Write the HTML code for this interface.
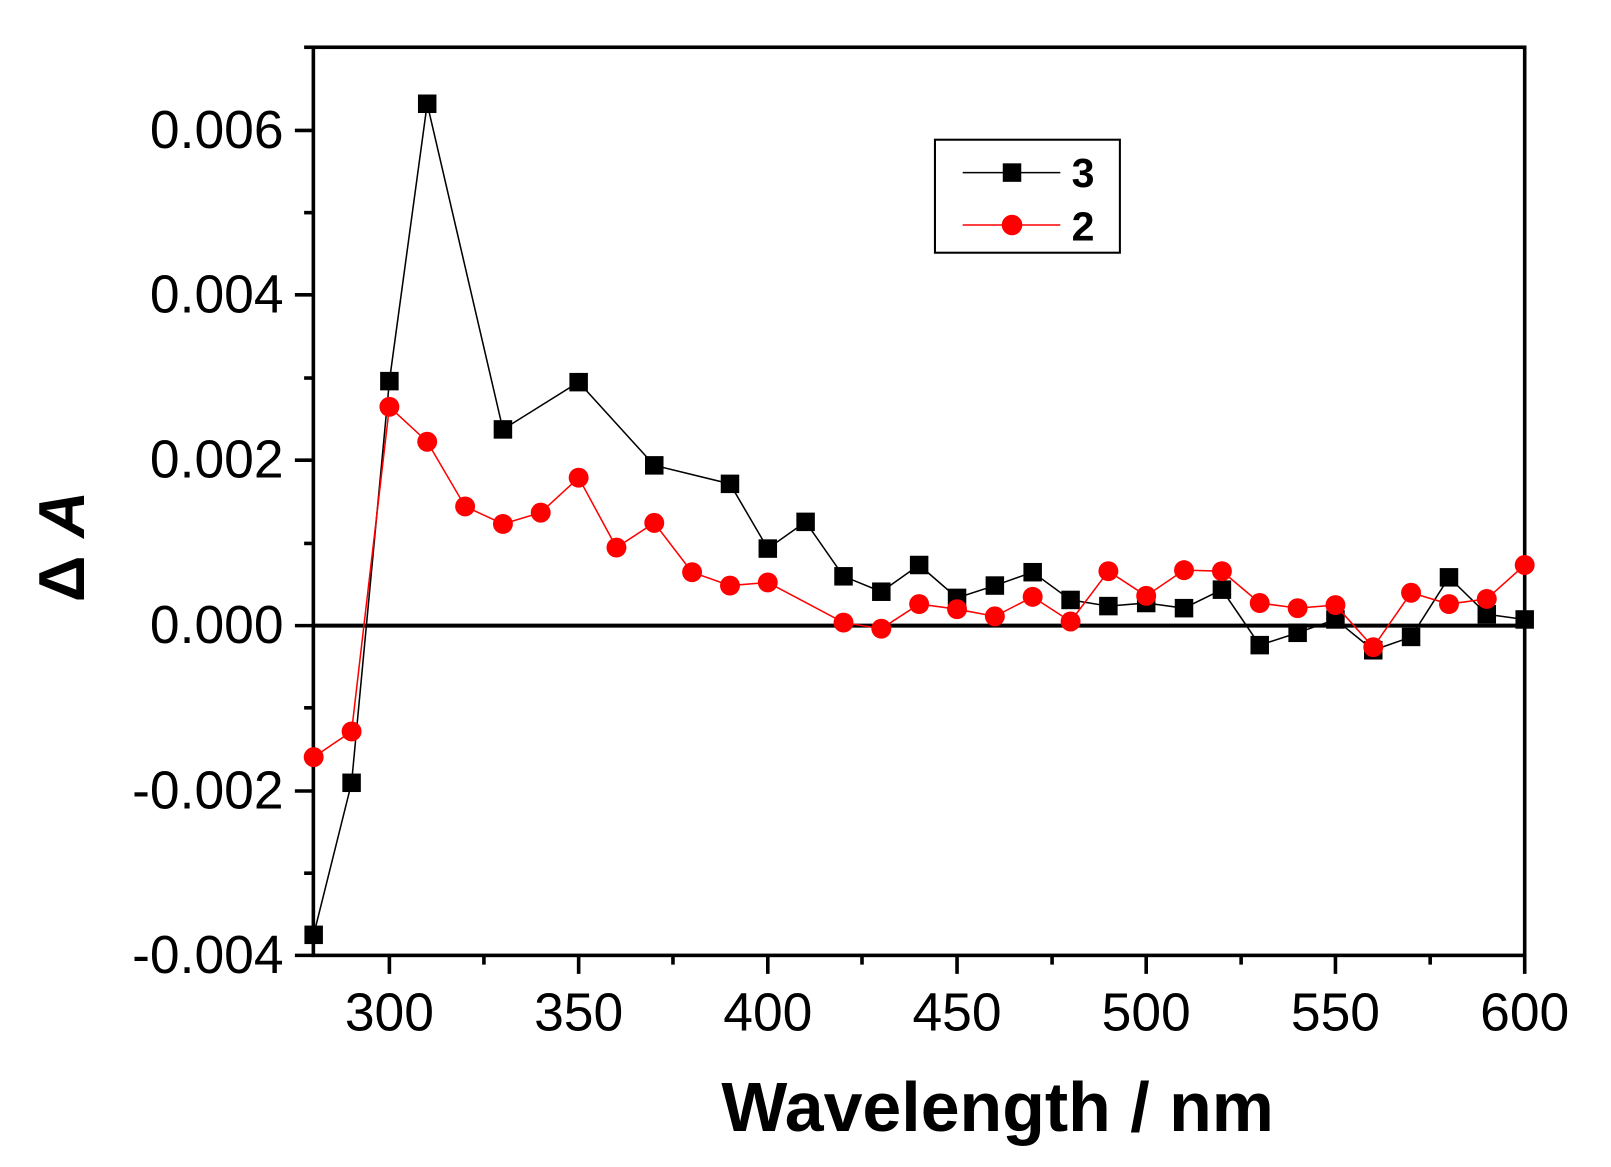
<!DOCTYPE html>
<html><head><meta charset="utf-8"><style>
html,body{margin:0;padding:0;background:#fff;}
svg{display:block;}
text{font-family:"Liberation Sans",Arial,sans-serif;}
</style></head><body>
<svg width="1611" height="1167" viewBox="0 0 1568 1136" preserveAspectRatio="none" xmlns="http://www.w3.org/2000/svg">
<rect width="1568" height="1136" fill="#fff"/>
<rect x="305" y="46" width="1179" height="884" fill="none" stroke="#000" stroke-width="3.5"/>
<line x1="305" y1="609" x2="1484" y2="609" stroke="#000" stroke-width="4"/>
<g stroke="#000" stroke-width="3.5">
<line x1="287" y1="930" x2="305" y2="930"/><line x1="287" y1="770" x2="305" y2="770"/>
<line x1="287" y1="609" x2="305" y2="609"/><line x1="287" y1="448" x2="305" y2="448"/>
<line x1="287" y1="287" x2="305" y2="287"/><line x1="287" y1="127" x2="305" y2="127"/>
<line x1="296" y1="850" x2="305" y2="850"/><line x1="296" y1="689" x2="305" y2="689"/>
<line x1="296" y1="529" x2="305" y2="529"/><line x1="296" y1="368" x2="305" y2="368"/>
<line x1="296" y1="207" x2="305" y2="207"/><line x1="296" y1="46" x2="305" y2="46"/>
<line x1="379" y1="930" x2="379" y2="948"/><line x1="563.2" y1="930" x2="563.2" y2="948"/>
<line x1="747.3" y1="930" x2="747.3" y2="948"/><line x1="931.5" y1="930" x2="931.5" y2="948"/>
<line x1="1115.6" y1="930" x2="1115.6" y2="948"/><line x1="1299.8" y1="930" x2="1299.8" y2="948"/>
<line x1="1484" y1="930" x2="1484" y2="948"/>
<line x1="471" y1="930" x2="471" y2="939"/><line x1="655" y1="930" x2="655" y2="939"/>
<line x1="839" y1="930" x2="839" y2="939"/><line x1="1024" y1="930" x2="1024" y2="939"/>
<line x1="1208" y1="930" x2="1208" y2="939"/><line x1="1392" y1="930" x2="1392" y2="939"/>
</g>
<g font-size="52" text-anchor="end">
<text x="276" y="947">-0.004</text>
<text x="276" y="787">-0.002</text>
<text x="276" y="626">0.000</text>
<text x="276" y="465">0.002</text>
<text x="276" y="304">0.004</text>
<text x="276" y="144">0.006</text>
</g>
<g font-size="52" text-anchor="middle">
<text x="379" y="1003">300</text><text x="563.2" y="1003">350</text>
<text x="747.3" y="1003">400</text><text x="931.5" y="1003">450</text>
<text x="1115.6" y="1003">500</text><text x="1299.8" y="1003">550</text>
<text x="1484" y="1003">600</text>
</g>
<text x="971" y="1101" font-size="68" font-weight="bold" text-anchor="middle">Wavelength / nm</text>
<text transform="translate(82,532) rotate(-90)" font-size="63" font-weight="bold" text-anchor="middle">Δ <tspan font-style="italic">A</tspan></text>
<polyline fill="none" stroke="#000" stroke-width="1.5" points="305.3,910 342.2,762 379,371 415.8,101 489.5,418 563.2,372 636.8,453 710.5,471 747.3,534 784.1,508 821,561 857.8,576 894.6,550 931.5,582 968.3,570 1005.1,557 1042,584 1078.8,590 1115.6,587 1152.4,592 1189.3,574 1226.1,628 1263,616 1299.8,603 1336.6,633 1373.4,620 1410.3,562 1447.1,598 1484,603"/>
<g fill="#000">
<rect x="296.3" y="901" width="18" height="18"/><rect x="333.2" y="753" width="18" height="18"/>
<rect x="370" y="362" width="18" height="18"/><rect x="406.8" y="92" width="18" height="18"/>
<rect x="480.5" y="409" width="18" height="18"/><rect x="554.2" y="363" width="18" height="18"/>
<rect x="627.8" y="444" width="18" height="18"/><rect x="701.5" y="462" width="18" height="18"/>
<rect x="738.3" y="525" width="18" height="18"/><rect x="775.1" y="499" width="18" height="18"/>
<rect x="812" y="552" width="18" height="18"/><rect x="848.8" y="567" width="18" height="18"/>
<rect x="885.6" y="541" width="18" height="18"/><rect x="922.5" y="573" width="18" height="18"/>
<rect x="959.3" y="561" width="18" height="18"/><rect x="996.1" y="548" width="18" height="18"/>
<rect x="1033" y="575" width="18" height="18"/><rect x="1069.8" y="581" width="18" height="18"/>
<rect x="1106.6" y="578" width="18" height="18"/><rect x="1143.4" y="583" width="18" height="18"/>
<rect x="1180.3" y="565" width="18" height="18"/><rect x="1217.1" y="619" width="18" height="18"/>
<rect x="1254" y="607" width="18" height="18"/><rect x="1290.8" y="594" width="18" height="18"/>
<rect x="1327.6" y="624" width="18" height="18"/><rect x="1364.4" y="611" width="18" height="18"/>
<rect x="1401.3" y="553" width="18" height="18"/><rect x="1438.1" y="589" width="18" height="18"/>
<rect x="1475" y="594" width="18" height="18"/>
</g>
<polyline fill="none" stroke="#f00" stroke-width="1.5" points="305.3,737 342.2,712 379,396 415.8,430 452.7,493 489.5,510 526.3,499 563.2,465 600,533 636.8,509 673.6,557 710.5,570 747.3,567 821,606 857.8,612 894.6,588 931.5,593 968.3,600 1005.1,581 1042,605 1078.8,556 1115.6,580 1152.4,555 1189.3,556 1226.1,587 1263,592 1299.8,589 1336.6,630 1373.4,577 1410.3,588 1447.1,583 1484,550"/>
<g fill="#f00">
<circle cx="305.3" cy="737" r="9.7"/><circle cx="342.2" cy="712" r="9.7"/><circle cx="379" cy="396" r="9.7"/>
<circle cx="415.8" cy="430" r="9.7"/><circle cx="452.7" cy="493" r="9.7"/><circle cx="489.5" cy="510" r="9.7"/>
<circle cx="526.3" cy="499" r="9.7"/><circle cx="563.2" cy="465" r="9.7"/><circle cx="600" cy="533" r="9.7"/>
<circle cx="636.8" cy="509" r="9.7"/><circle cx="673.6" cy="557" r="9.7"/><circle cx="710.5" cy="570" r="9.7"/>
<circle cx="747.3" cy="567" r="9.7"/><circle cx="821" cy="606" r="9.7"/><circle cx="857.8" cy="612" r="9.7"/>
<circle cx="894.6" cy="588" r="9.7"/><circle cx="931.5" cy="593" r="9.7"/><circle cx="968.3" cy="600" r="9.7"/>
<circle cx="1005.1" cy="581" r="9.7"/><circle cx="1042" cy="605" r="9.7"/><circle cx="1078.8" cy="556" r="9.7"/>
<circle cx="1115.6" cy="580" r="9.7"/><circle cx="1152.4" cy="555" r="9.7"/><circle cx="1189.3" cy="556" r="9.7"/>
<circle cx="1226.1" cy="587" r="9.7"/><circle cx="1263" cy="592" r="9.7"/><circle cx="1299.8" cy="589" r="9.7"/>
<circle cx="1336.6" cy="630" r="9.7"/><circle cx="1373.4" cy="577" r="9.7"/><circle cx="1410.3" cy="588" r="9.7"/>
<circle cx="1447.1" cy="583" r="9.7"/><circle cx="1484" cy="550" r="9.7"/>
</g>
<rect x="910" y="136" width="180" height="110" fill="#fff" stroke="#000" stroke-width="2"/>
<line x1="937" y1="168" x2="1032" y2="168" stroke="#000" stroke-width="1.5"/>
<rect x="976" y="159" width="18" height="18" fill="#000"/>
<line x1="937" y1="219" x2="1032" y2="219" stroke="#f00" stroke-width="1.5"/>
<circle cx="985" cy="219" r="10" fill="#f00"/>
<text x="1043" y="182" font-size="40" font-weight="bold">3</text>
<text x="1043" y="234" font-size="40" font-weight="bold">2</text>
</svg>
</body></html>
